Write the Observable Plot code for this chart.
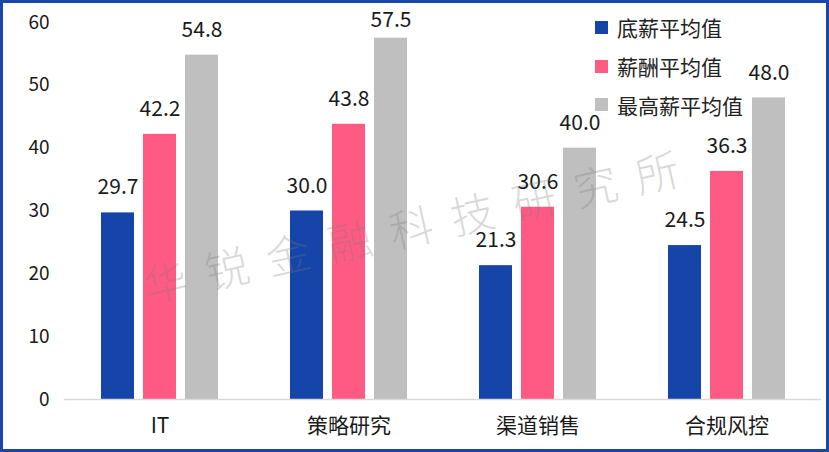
<!DOCTYPE html>
<html>
<head>
<meta charset="utf-8">
<script src="https://cdn.jsdelivr.net/npm/d3@7"></script>
<script src="https://cdn.jsdelivr.net/npm/@observablehq/plot@0.6"></script>
<style>
  html, body { margin: 0; padding: 0; background: #fff; }
  #wrap { position: relative; width: 829px; height: 452px; font-family: "Noto Sans CJK SC", "Noto Sans", sans-serif; }
  #wrap svg { position: absolute; left: 0; top: 0; }
  #border { position: absolute; left: 0; top: 0; width: 829px; height: 452px; box-sizing: border-box; border: 3px solid #1A46A8; pointer-events: none; }
  #legend { position: absolute; left: 595px; top: 8px; }
  .row { display: flex; align-items: center; height: 38.8px; font-size: 21px; color: #222; }
  .sw { width: 13px; height: 13px; margin-right: 9px; }
</style>
</head>
<body>
<div id="wrap"><div id="legend"></div><div id="border"></div></div>
<script>
const categories = ["IT", "策略研究", "渠道销售", "合规风控"];
const series = ["底薪平均值", "薪酬平均值", "最高薪平均值"];
const baseSalary = [29.7, 30.0, 21.3, 24.5];
const totalSalary = [42.2, 43.8, 30.6, 36.3];
const maxSalary = [54.8, 57.5, 40.0, 48.0];
const yTicks = [0, 10, 20, 30, 40, 50, 60];
const colors = ["#1645A9", "#FF5A84", "#BFBFBF"];
const watermark = "华锐金融科技研究所";

const seriesValues = [baseSalary, totalSalary, maxSalary];
const offsets = [-42, 0, 42];
const fmt = d3.format(".1f");

const marks = [];
seriesValues.forEach((vals, i) => {
  const data = categories.map((c, j) => ({cat: c, v: vals[j], s: series[i]}));
  marks.push(Plot.barY(data, {x: "cat", y: "v", fill: "s", dx: offsets[i]}));
  // labels sit ~25px above bar tops, kept inside the top of the plot area
  marks.push(Plot.text(data, {x: "cat", y: d => Math.min(d.v + 4, 60.3), text: d => fmt(d.v), dx: offsets[i], fontSize: 21, fill: "#1a1a1a"}));
});
marks.push(Plot.ruleY([0], {stroke: "#d9d9d9", strokeWidth: 1.6}));
marks.push(Plot.axisY({ticks: yTicks, tickSize: 0, tickPadding: 15, fontSize: 19, label: null, tickFormat: d3.format("d")}));
marks.push(Plot.axisX({tickSize: 0, tickPadding: 19, fontSize: 21, label: null}));
marks.push(Plot.text([watermark], {
  frameAnchor: "middle", text: d => d, dx: -22, dy: 17, rotate: -12.6,
  fontSize: 44, fill: "#7a7a7a", fillOpacity: 0.28, fontWeight: 300
}));

const chart = Plot.plot({
  width: 829,
  height: 452,
  marginLeft: 64,
  marginRight: 8,
  marginTop: 22,
  marginBottom: 53,
  style: {fontFamily: '"Noto Sans CJK SC", "Noto Sans", sans-serif', color: "#1a1a1a", background: "transparent"},
  x: {domain: categories, paddingInner: 0.8256, paddingOuter: 0.4128, label: null},
  y: {domain: [0, 60], label: null},
  color: {domain: series, range: colors},
  marks
});
document.getElementById("wrap").insertBefore(chart, document.getElementById("legend"));

d3.select(chart).selectAll("text").filter(function() { return this.textContent === watermark; })
  .style("letter-spacing", "19px");

const legend = d3.select("#legend");
series.forEach((s, i) => {
  const r = legend.append("div").attr("class", "row");
  r.append("div").attr("class", "sw").style("background", colors[i]);
  r.append("span").text(s);
});
</script>
</body>
</html>
